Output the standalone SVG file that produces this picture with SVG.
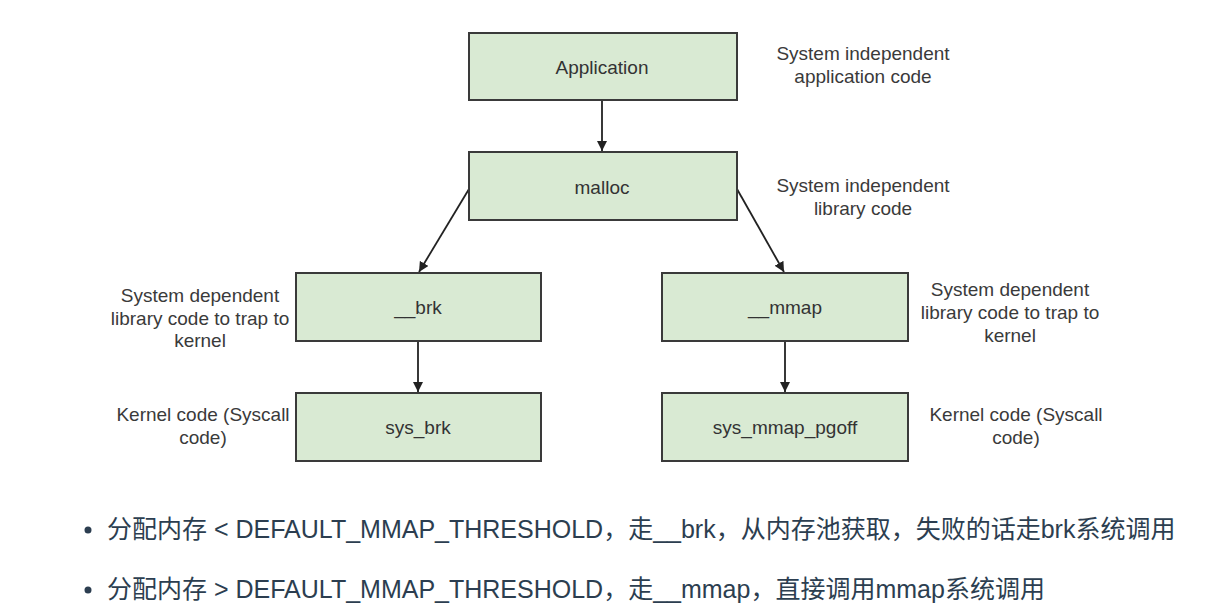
<svg xmlns="http://www.w3.org/2000/svg" width="1227" height="612" viewBox="0 0 1227 612">
<style>
.box{fill:#d9ead3;stroke:#3a3a3a;stroke-width:2}
.bt{font-family:"Liberation Sans",Arial,sans-serif;font-size:19px;fill:#333;text-anchor:middle}
.lb{font-family:"Liberation Sans",Arial,sans-serif;font-size:19px;fill:#3a3a3a;text-anchor:middle}
.cn{stroke:#222;stroke-width:1.8;fill:none}
.bl{font-family:"Liberation Sans","Noto Sans CJK SC",sans-serif;font-size:25px;fill:#2c3e50}
</style>
<defs>
<marker id="ah" viewBox="0 0 10 10" refX="10" refY="5" markerWidth="10" markerHeight="10" markerUnits="userSpaceOnUse" orient="auto">
<path d="M0,0 L10,5 L0,10 Z" fill="#222"/>
</marker>
</defs>
<rect width="1227" height="612" fill="#fff"/>
<g id="connectors">
<line class="cn" x1="602" y1="100" x2="602" y2="151" marker-end="url(#ah)"/>
<line class="cn" x1="469" y1="189" x2="419" y2="272" marker-end="url(#ah)"/>
<line class="cn" x1="737" y1="189" x2="784" y2="272" marker-end="url(#ah)"/>
<line class="cn" x1="418" y1="341" x2="418" y2="392" marker-end="url(#ah)"/>
<line class="cn" x1="785" y1="341" x2="785" y2="392" marker-end="url(#ah)"/>
</g>
<g id="application">
<rect class="box" x="469" y="33" width="268" height="67"/>
<text class="bt" x="602" y="74">Application</text>
</g>
<g id="malloc">
<rect class="box" x="469" y="152" width="268" height="68"/>
<text class="bt" x="602" y="194">malloc</text>
</g>
<g id="brk">
<rect class="box" x="296" y="273" width="245" height="68"/>
<text class="bt" x="418" y="314">__brk</text>
</g>
<g id="mmap">
<rect class="box" x="662" y="273" width="246" height="68"/>
<text class="bt" x="785" y="314">__mmap</text>
</g>
<g id="sys_brk">
<rect class="box" x="296" y="393" width="245" height="68"/>
<text class="bt" x="418" y="434">sys_brk</text>
</g>
<g id="sys_mmap_pgoff">
<rect class="box" x="662" y="393" width="246" height="68"/>
<text class="bt" x="785" y="434">sys_mmap_pgoff</text>
</g>
<g id="labels">
<text class="lb" x="863" y="60">System independent</text>
<text class="lb" x="863" y="83">application code</text>
<text class="lb" x="863" y="192">System independent</text>
<text class="lb" x="863" y="215">library code</text>
<text class="lb" x="200" y="302">System dependent</text>
<text class="lb" x="200" y="325">library code to trap to</text>
<text class="lb" x="200" y="347">kernel</text>
<text class="lb" x="1010" y="296">System dependent</text>
<text class="lb" x="1010" y="319">library code to trap to</text>
<text class="lb" x="1010" y="342">kernel</text>
<text class="lb" x="203" y="421">Kernel code (Syscall</text>
<text class="lb" x="203" y="444">code)</text>
<text class="lb" x="1016" y="421">Kernel code (Syscall</text>
<text class="lb" x="1016" y="444">code)</text>
</g>
<g id="bullets">
<circle cx="88" cy="530" r="3.5" fill="#2c3e50"/>
<text class="bl" x="107" y="538">分配内存 &lt; DEFAULT_MMAP_THRESHOLD，走__brk，从内存池获取，失败的话走brk系统调用</text>
<circle cx="88" cy="590" r="3.5" fill="#2c3e50"/>
<text class="bl" x="107" y="598">分配内存 &gt; DEFAULT_MMAP_THRESHOLD，走__mmap，直接调用mmap系统调用</text>
</g>
</svg>
